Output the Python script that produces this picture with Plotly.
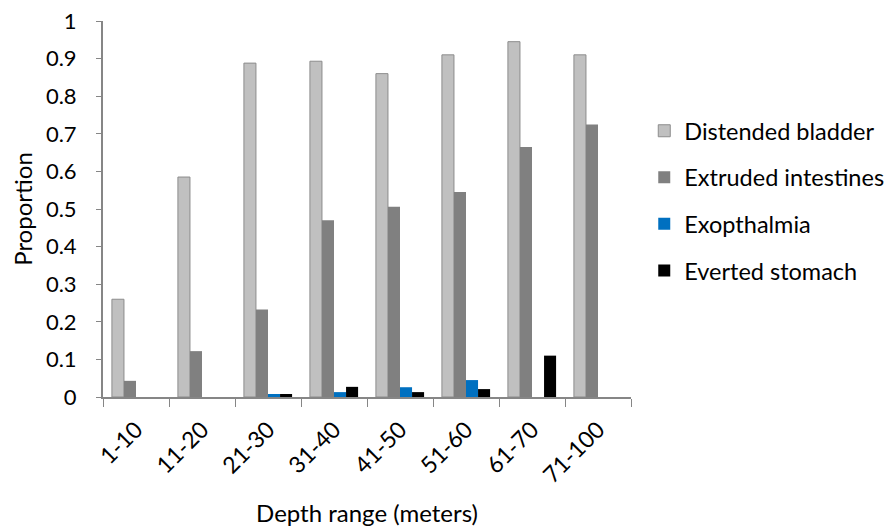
import plotly.graph_objects as go

# Depth categories and proportions
depths = ['1-10', '11-20', '21-30', '31-40', '41-50', '51-60', '61-70', '71-100']
distended_bladder = [0.26, 0.585, 0.888, 0.893, 0.86, 0.91, 0.945, 0.91]
extruded_intestines = [0.043, 0.122, 0.233, 0.47, 0.506, 0.545, 0.665, 0.725]
exopthalmia = [0, 0, 0.008, 0.013, 0.026, 0.045, 0, 0]
everted_stomach = [0, 0, 0.008, 0.027, 0.013, 0.021, 0.11, 0]

series = [
    ('Distended bladder', distended_bladder, '#C0C0C0', '#8C8C8C', 1),
    ('Extruded intestines', extruded_intestines, '#808080', '#808080', 0),
    ('Exopthalmia', exopthalmia, '#0070C0', '#0070C0', 0),
    ('Everted stomach', everted_stomach, '#000000', '#000000', 0),
]

font_family = "Lato, 'Open Sans', sans-serif"
axis_grey = '#868686'

fig = go.Figure()
for name, values, fill, line, lw in series:
    fig.add_trace(go.Bar(
        x=depths,
        y=values,
        name=name,
        legendgroup=name,
        marker=dict(color=fill, line=dict(color=line, width=lw)),
    ))

# page body has an 8px margin, so the figure is 8px smaller than the window
fig.update_layout(
    width=888,
    height=523,
    barmode='group',
    bargap=0.27,
    bargroupgap=0,
    plot_bgcolor='white',
    paper_bgcolor='white',
    font=dict(family=font_family, size=23, color='#000000'),
    margin=dict(l=95, r=265, t=13, b=134),
    showlegend=True,
    legend=dict(
        xref='container', yref='container',
        x=0.7165, xanchor='left',
        y=0.631, yanchor='middle',
        font=dict(size=23.5),
        traceorder='grouped',
        tracegroupgap=13,
    ),
    xaxis=dict(
        title=dict(text='Depth range (meters)', font=dict(size=24), standoff=18),
        automargin=False,
        tickangle=-45,
        tickfont=dict(size=23),
        ticklabelstandoff=8,
        tickson='boundaries',
        ticks='outside',
        ticklen=8,
        tickcolor=axis_grey,
        showline=True,
        linecolor=axis_grey,
        linewidth=2,
        showgrid=False,
    ),
    yaxis=dict(
        title=dict(text='Proportion', font=dict(size=24), standoff=8),
        automargin=False,
        range=[0, 1],
        dtick=0.1,
        tickfont=dict(size=22),
        ticklabelstandoff=15,
        ticklabeloverflow='allow',
        ticks='outside',
        ticklen=5,
        tickcolor=axis_grey,
        showline=True,
        linecolor=axis_grey,
        linewidth=2,
        showgrid=False,
        zeroline=False,
    ),
)

fig.write_html("out.html")
